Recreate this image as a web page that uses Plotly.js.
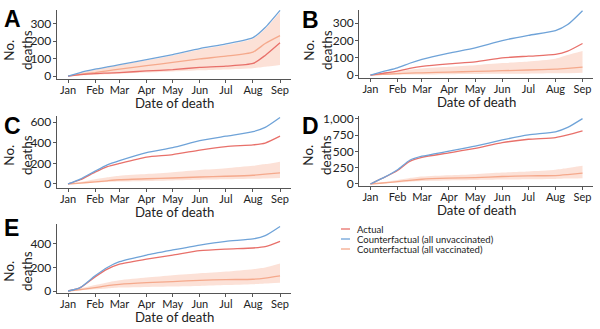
<!DOCTYPE html>
<html>
<head>
<meta charset="utf-8">
<script src="https://cdn.plot.ly/plotly-3.0.1.min.js"></script>
<style>html,body{margin:0;padding:0;background:#fff}#chart{width:600px;height:329px}</style>
</head>
<body>
<div id="chart"></div>
<script>
// Dates of the sampled points (cumulative deaths)
const dates = ['2021-01-01','2021-01-15','2021-02-01','2021-02-15','2021-03-01','2021-04-01','2021-05-01','2021-06-01','2021-07-01','2021-08-01','2021-08-15','2021-09-01'];

const panelLabels = ['A','B','C','D','E'];
const seriesNames = ['Actual','Counterfactual (all unvaccinated)','Counterfactual (all vaccinated)'];
const xTitle = 'Date of death';
const yTitle = 'No.<br>deaths';

// Panel A
const aActual  = [0, 8, 14, 17, 20, 29, 37, 49, 57, 72, 118, 190];
const aUnvax   = [0, 20, 39, 52, 65, 94, 123, 157, 184, 220, 278, 376];
const aVax     = [0, 10, 20, 30, 39, 59, 78, 98, 114, 137, 186, 231];
const aVaxLow  = [0, 3, 7, 10, 13, 20, 26, 33, 38, 45, 53, 63];
const aVaxHigh = [0, 19, 37, 50, 63, 90, 118, 152, 178, 214, 270, 365];
// Panel B
const bActual  = [0, 10, 23, 38, 50, 65, 76, 99, 109, 119, 138, 182];
const bUnvax   = [0, 20, 42, 68, 90, 126, 157, 199, 229, 256, 291, 371];
const bVax     = [0, 4, 8, 11, 13, 17, 21, 25, 29, 34, 39, 46];
const bVaxLow  = [0, 1, 2, 3, 3, 5, 6, 7, 8, 10, 11, 13];
const bVaxHigh = [0, 11, 23, 31, 38, 48, 57, 69, 78, 94, 115, 138];
// Panel C
const cActual  = [0, 41, 115, 169, 200, 261, 285, 329, 363, 380, 397, 464];
const cUnvax   = [0, 47, 125, 186, 227, 305, 353, 420, 464, 508, 549, 645];
const cVax     = [0, 9, 20, 31, 41, 51, 58, 68, 75, 85, 95, 108];
const cVaxLow  = [0, 5, 14, 20, 24, 30, 35, 41, 45, 50, 54, 58];
const cVaxHigh = [0, 20, 47, 66, 81, 98, 115, 136, 153, 176, 193, 217];
// Panel D
const dActual  = [0, 89, 208, 349, 411, 479, 547, 635, 688, 714, 755, 818];
const dUnvax   = [0, 89, 219, 365, 427, 505, 583, 677, 755, 802, 870, 1005];
const dVax     = [0, 15, 36, 57, 73, 89, 99, 115, 125, 130, 145, 167];
const dVaxLow  = [0, 8, 21, 35, 47, 55, 61, 68, 74, 78, 83, 89];
const dVaxHigh = [0, 28, 63, 92, 115, 135, 151, 177, 193, 219, 245, 281];
// Panel E
const eActual  = [0, 29, 120, 186, 229, 271, 306, 343, 357, 366, 377, 423];
const eUnvax   = [0, 29, 129, 200, 249, 306, 349, 391, 423, 443, 471, 549];
const eVax     = [0, 12, 29, 45, 57, 71, 80, 91, 97, 100, 110, 129];
const eVaxLow  = [0, 5, 14, 22, 29, 35, 39, 43, 50, 57, 63, 71];
const eVaxHigh = [0, 22, 51, 73, 91, 114, 134, 151, 166, 186, 200, 234];

const yTicks = [
  [0, 100, 200, 300],
  [0, 100, 200, 300],
  [0, 200, 400, 600],
  [0, 250, 500, 750, 1000],
  [0, 200, 400]
];

const panels = [
  [aActual, aUnvax, aVax, aVaxLow, aVaxHigh],
  [bActual, bUnvax, bVax, bVaxLow, bVaxHigh],
  [cActual, cUnvax, cVax, cVaxLow, cVaxHigh],
  [dActual, dUnvax, dVax, dVaxLow, dVaxHigh],
  [eActual, eUnvax, eVax, eVaxLow, eVaxHigh]
];

const RED = '#e8706a', BLUE = '#6fa3d8', ORANGE = '#f5a98c', BAND = 'rgba(246,176,150,0.38)';
const FONT = 'Lato, "Open Sans", sans-serif';

// positions (pixels)
const W = 600, H = 329;
const boxes = [
  {l: 56.7, r: 290.5, t: 9.5, b: 79, yr: [-17, 381], letter: [2, 4], xt: [174, 103.2], yt: [18, 50]},
  {l: 359.1, r: 593, t: 9.5, b: 78, yr: [-17, 378], letter: [300, 5], xt: [476, 102], yt: [318, 50]},
  {l: 56.7, r: 290.5, t: 116, b: 188, yr: [-39, 660], letter: [2, 111], xt: [174, 211.5], yt: [18, 155]},
  {l: 359.1, r: 593, t: 116, b: 186, yr: [-31, 1046], letter: [300, 111], xt: [476, 209.5], yt: [317, 155]},
  {l: 56.7, r: 290.5, t: 224, b: 293, yr: [-17, 570], letter: [2, 213], xt: [174, 316.5], yt: [18, 271]}
];

const traces = [];
const layout = {
  width: W, height: H,
  margin: {l: 0, r: 0, t: 0, b: 0},
  paper_bgcolor: '#fff', plot_bgcolor: '#fff',
  showlegend: false,
  font: {family: FONT, color: '#222'},
  annotations: [], shapes: []
};

panels.forEach((p, i) => {
  const n = i === 0 ? '' : String(i + 1);
  const xa = 'x' + n, ya = 'y' + n;
  const [act, unv, vax, lo, hi] = p;
  traces.push({x: dates, y: hi, xaxis: xa, yaxis: ya, mode: 'lines', line: {width: 0, shape: 'spline', smoothing: 0.6}, hoverinfo: 'skip'});
  traces.push({x: dates, y: lo, xaxis: xa, yaxis: ya, mode: 'lines', line: {width: 0, shape: 'spline', smoothing: 0.6}, fill: 'tonexty', fillcolor: BAND, hoverinfo: 'skip'});
  traces.push({x: dates, y: vax, xaxis: xa, yaxis: ya, mode: 'lines', name: seriesNames[2], line: {color: ORANGE, width: 1.3, shape: 'spline', smoothing: 0.6}});
  traces.push({x: dates, y: act, xaxis: xa, yaxis: ya, mode: 'lines', name: seriesNames[0], line: {color: RED, width: 1.3, shape: 'spline', smoothing: 0.6}});
  traces.push({x: dates, y: unv, xaxis: xa, yaxis: ya, mode: 'lines', name: seriesNames[1], line: {color: BLUE, width: 1.3, shape: 'spline', smoothing: 0.6}});

  const bx = boxes[i];
  layout['xaxis' + n] = {
    domain: [bx.l / W, bx.r / W],
    anchor: ya, type: 'date',
    range: ['2020-12-19', '2021-09-13'],
    tick0: '2021-01-01', dtick: 'M1', tickformat: '%b',
    showline: true, linecolor: '#555', linewidth: 1,
    ticks: 'outside', ticklen: 3, tickcolor: '#555',
    ticklabelstandoff: -2,
    showgrid: false, zeroline: false,
    tickfont: {size: 11, family: FONT, color: '#222'}
  };
  layout['yaxis' + n] = {
    domain: [1 - bx.b / H, 1 - bx.t / H],
    anchor: xa, range: bx.yr,
    tickvals: yTicks[i], tickformat: ',d',
    showline: true, linecolor: '#555', linewidth: 1,
    ticks: 'outside', ticklen: 3, tickcolor: '#555',
    ticklabelstandoff: -1,
    showgrid: false, zeroline: false,
    tickfont: {size: 12, family: FONT, color: '#222'}
  };
  // panel letter
  layout.annotations.push({
    text: '<b>' + panelLabels[i] + '</b>', xref: 'paper', yref: 'paper',
    x: bx.letter[0] / W, y: 1 - bx.letter[1] / H, xanchor: 'left', yanchor: 'top',
    showarrow: false, font: {size: 23, family: '"Liberation Sans Narrow", "Liberation Sans", Arial, sans-serif', color: '#000'}
  });
  // x-axis title
  layout.annotations.push({
    text: xTitle, xref: 'paper', yref: 'paper',
    x: bx.xt[0] / W, y: 1 - bx.xt[1] / H, xanchor: 'center', yanchor: 'middle',
    showarrow: false, font: {size: 13.2, family: FONT, color: '#222'}
  });
  // y-axis title
  layout.annotations.push({
    text: yTitle, xref: 'paper', yref: 'paper', textangle: -90,
    x: bx.yt[0] / W, y: 1 - bx.yt[1] / H, xanchor: 'center', yanchor: 'middle',
    showarrow: false, font: {size: 13.5, family: FONT, color: '#222'}
  });
});

// Legend drawn as text with short line samples
const legendColors = [RED, BLUE, ORANGE];
const legendY = [229, 239, 249];
seriesNames.forEach((nm, k) => {
  layout.annotations.push({
    text: nm, xref: 'paper', yref: 'paper', x: 355 / W, y: 1 - legendY[k] / H,
    xanchor: 'left', yanchor: 'middle', showarrow: false,
    font: {size: 9.5, family: FONT, color: '#222'}
  });
  layout.shapes.push({
    type: 'line', xref: 'paper', yref: 'paper',
    x0: 341 / W, x1: 350 / W, y0: 1 - legendY[k] / H, y1: 1 - legendY[k] / H,
    line: {color: legendColors[k], width: 1.3}
  });
});

Plotly.newPlot('chart', traces, layout, {displayModeBar: false, staticPlot: true});
</script>
</body>
</html>
